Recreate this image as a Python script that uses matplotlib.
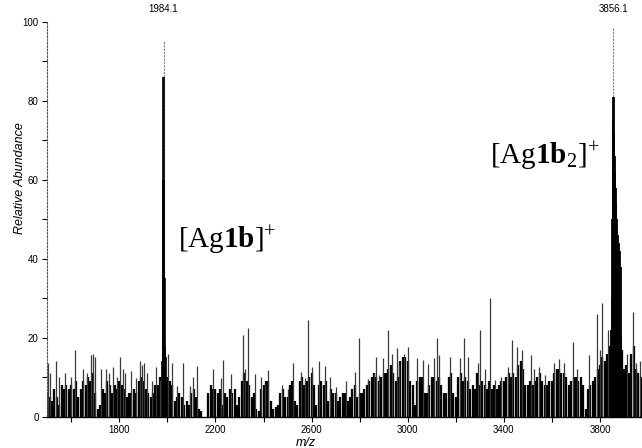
import numpy as np
import matplotlib
matplotlib.use("Agg")
import matplotlib.pyplot as plt

plt.rcParams['font.family'] = ['Liberation Sans', 'DejaVu Sans']
plt.rcParams['mathtext.fontset'] = 'custom'
plt.rcParams['mathtext.rm'] = 'Liberation Serif'
plt.rcParams['mathtext.bf'] = 'Liberation Serif:bold'
plt.rcParams['mathtext.it'] = 'Liberation Serif:italic'

# ---- data ----
# noise envelope, one value every 10 m/z from 1500 to 3970
base_start = 1500
base_step = 10
base_h = [
    6, 5, 4, 7, 5, 3, 8, 7, 8, 7,
    8, 7, 9, 5, 7, 9, 8, 10, 9, 11,
    6, 2, 3, 7, 6, 9, 8, 6, 8, 7,
    9, 8, 7, 5, 6, 6, 7, 6, 9, 10,
    9, 7, 6, 5, 6, 8, 8, 10, 12, 14,
    10, 9, 8, 4, 5, 6, 5, 3, 4, 3,
    6, 7, 5, 2, 1.5, 0, 0, 6, 8, 7,
    7, 6, 7, 3, 6, 5, 7, 6, 7, 3,
    5, 9, 11, 9, 8, 5, 6, 2, 1.5, 7,
    8, 9, 9, 4, 2, 2.5, 3, 6, 7, 5,
    5, 8, 9, 4, 3, 9, 10, 8, 9, 10,
    11, 8, 3, 8, 9, 8, 9, 4, 7, 6,
    6, 4, 5, 6, 6, 4, 5, 7, 8, 5,
    6, 6, 7, 8, 9, 10, 11, 10, 9, 10,
    11, 11, 12, 13, 11, 9, 10, 14, 15, 15,
    14, 9, 8, 3, 9, 10, 10, 6, 6, 8,
    10, 10, 9, 10, 8, 6, 6, 10, 11, 6,
    5, 10, 11, 9, 10, 9, 7, 8, 7, 11,
    8, 9, 8, 7, 9, 7, 8, 7, 8, 9,
    9, 10, 11, 10, 11, 10, 13, 14, 12, 8,
    8, 9, 8, 9, 10, 11, 9, 8, 8, 9,
    9, 11, 12, 12, 11, 11, 10, 8, 9, 10,
    10, 9, 10, 8, 2, 7, 8, 9, 10, 12,
    13, 15, 14, 16, 18, 20, 20, 20, 20, 17,
    12, 13, 11, 16, 18, 12, 11, 10,
]
base_mz = base_start + base_step * np.arange(len(base_h))

# isolated noise spikes
spike_mz = [1503, 1512, 1537, 1550, 1575, 1598, 1614, 1650, 1665, 1683, 1692, 1700,
            1723, 1745, 1755, 1775, 1790, 1803, 1815, 1822, 1850, 1868, 1888, 1895,
            1903, 1915, 1935, 1953, 1970, 1977, 2003, 2018, 2042, 2063, 2094, 2108,
            2122, 2188, 2222, 2233, 2263, 2315, 2322, 2336, 2365, 2388, 2405, 2420,
            2478, 2500, 2521, 2556, 2572, 2586, 2600, 2632, 2656, 2676, 2700, 2745,
            2781, 2798, 2835, 2860, 2868, 2880, 2896, 2920, 2935, 2955, 2965, 2985,
            3003, 3037, 3062, 3085, 3110, 3120, 3132, 3177, 3218, 3234, 3250, 3292,
            3300, 3322, 3342, 3365, 3388, 3418, 3435, 3456, 3474, 3515, 3527, 3548,
            3572, 3608, 3628, 3650, 3686, 3705, 3756, 3788, 3800, 3807, 3834, 3911,
            3938, 3952, 3966]
spike_h = [13.5, 11, 14, 10, 11, 10, 17, 12, 11, 15.6, 16, 15,
           12, 12, 11, 12.7, 10, 15.2, 12, 11, 11.6, 9.7, 14, 13,
           13.5, 11, 9, 12.7, 9.3, 14, 16, 13.5, 7.7, 13.5, 7.7, 10,
           12.8, 12, 9.7, 14.3, 10.8, 20.7, 12, 22.4, 10.8, 10, 8.4, 11.8,
           8, 7, 13.5, 11.4, 9.7, 24.5, 12.7, 14.2, 12.8, 10, 7.6, 9,
           11.4, 19.8, 9.5, 11, 15.2, 10.5, 14.8, 22, 16, 17.3, 13, 16,
           17.7, 14.8, 14.3, 13.3, 14.8, 20, 15.6, 15.2, 14.8, 20, 15.2, 13.5,
           22, 12.2, 30, 9.3, 10, 12.7, 19.4, 17.7, 16.9, 15.6, 12, 12.5,
           10.5, 13.5, 14.5, 13.5, 19, 12, 15.6, 26, 17, 28.7, 22, 16,
           26.6, 13.5, 14]

# main peaks
peak1_mz = [1978, 1980, 1982, 1983, 1985, 1987, 1989, 1991, 1993]
peak1_h = [14, 20, 60, 86, 86, 60, 35, 18, 15]
peak2_mz = [3846, 3850, 3852, 3854, 3855, 3858, 3860, 3862, 3864, 3866, 3868,
            3870, 3874, 3878, 3882, 3886, 3889]
peak2_h = [22, 30, 50, 75, 81, 81, 72, 66, 62, 58, 54, 50, 46, 44, 42, 38, 20]
apex_mz = [1984.1, 3856.1]
apex_h = [95, 98.5]
apex_labels = ['1984.1', '3856.1']

x_major = [1800, 2200, 2600, 3000, 3400, 3800]
x_minor = [1600, 2000, 2400, 2800, 3200, 3600]
y_major = [0, 20, 40, 60, 80, 100]
y_minor = [10, 30, 50, 70, 90]

# ---- figure ----
fig = plt.figure(figsize=(6.42, 4.48), dpi=100)
ax = fig.add_axes([47 / 642, (448 - 416.7) / 448, 595 / 642, 395 / 448])

ax.vlines(base_mz, 0, base_h, color='black', lw=1.65)
ax.vlines(spike_mz, 0, spike_h, color='#3a3a3a', lw=0.9)
ax.vlines(apex_mz, 0, apex_h, color='#808080', lw=0.8, linestyles=(0, (2, 1)))
ax.vlines(peak1_mz, 0, peak1_h, color='black', lw=1.2)
ax.vlines(peak2_mz, 0, peak2_h, color='black', lw=1.3)

for mz, h, lab in zip(apex_mz, apex_h, apex_labels):
    ax.text(mz, 103.2, lab, ha='center', va='center', fontsize=7, clip_on=False)

ax.set_xlim(1499, 3975)
ax.set_ylim(0, 100)

ax.set_xticks(x_major)
ax.set_xticks(x_minor, minor=True)
ax.set_yticks(y_major)
ax.set_yticks(y_minor, minor=True)
ax.tick_params(axis='both', which='both', direction='out', width=0.8, labelsize=7, pad=2.5)
ax.tick_params(axis='both', which='major', length=3.5)
ax.tick_params(axis='both', which='minor', length=3.5)

for s in ['top', 'right']:
    ax.spines[s].set_visible(False)
ax.spines['left'].set_linestyle((0, (1.5, 1.5)))
ax.spines['left'].set_color('#555555')
ax.spines['left'].set_linewidth(0.8)
ax.spines['bottom'].set_linewidth(1.0)

fig.text(20.5 / 642, 1 - 178 / 448, 'Relative Abundance', rotation=90,
         ha='center', va='center', fontsize=9, style='italic')
fig.text(306 / 642, 1 - 437 / 448, 'm/z', ha='center', va='top',
         fontsize=9, style='italic')

ax.text(2044, 44.5, r'[Ag$\mathbf{1b}$]$^{+}$', family='Liberation Serif',
        fontsize=21, ha='left', va='center')
ax.text(3342, 66, r'[Ag$\mathbf{1b}_{\mathrm{2}}$]$^{+}$', family='Liberation Serif',
        fontsize=21, ha='left', va='center')

fig.savefig('out.png', dpi=100)
